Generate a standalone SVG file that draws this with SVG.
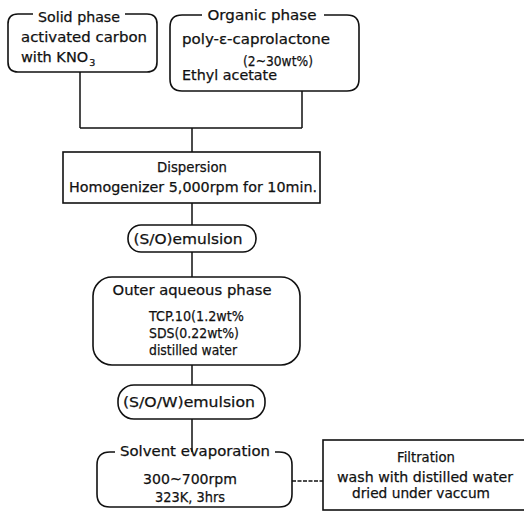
<svg xmlns="http://www.w3.org/2000/svg" width="524" height="512" viewBox="0 0 524 512">
<style>
.b{fill:none;stroke:#111;stroke-width:1.6}
.c{fill:none;stroke:#111;stroke-width:1.5}
text{font-family:"DejaVu Sans","Liberation Sans",sans-serif;font-size:14.5px;fill:#111;stroke:#111;stroke-width:0.25}
.m{text-anchor:middle}
</style>
<rect width="524" height="512" fill="#fff"/>
<g id="connectors">
<path class="c" d="M80,72 V128 M302,91 V128 M80,128 H302 M192,128 V152 M192,203 V225 M192,252 V277 M192,365 V385 M192,419 V452"/>
<path class="c" d="M292,481 H323" stroke-dasharray="4,1.5"/>
</g>
<g id="solid">
<path class="b" d="M125,14 H147 Q157,14 157,24 V62 Q157,72 147,72 H18 Q8,72 8,62 V24 Q8,14 18,14 H33"/>
<text x="79" y="22" class="m" textLength="82" lengthAdjust="spacingAndGlyphs">Solid phase</text>
<text x="21" y="42" textLength="126" lengthAdjust="spacingAndGlyphs">activated carbon</text>
<text x="21" y="62" font-size="14">with KNO<tspan font-size="9.5" dx="1" dy="4">3</tspan></text>
</g>
<g id="organic">
<path class="b" d="M324,15 H347 Q359,15 359,27 V79 Q359,91 347,91 H182 Q170,91 170,79 V27 Q170,15 182,15 H202"/>
<text x="262" y="20" class="m" textLength="109" lengthAdjust="spacingAndGlyphs">Organic phase</text>
<text x="182" y="44" textLength="148" lengthAdjust="spacingAndGlyphs">poly-ε-caprolactone</text>
<text x="243" y="66" textLength="70" lengthAdjust="spacingAndGlyphs">(2~30wt%)</text>
<text x="182" y="80" textLength="95" lengthAdjust="spacingAndGlyphs">Ethyl acetate</text>
</g>
<g id="dispersion">
<rect class="b" x="63" y="152" width="257" height="51"/>
<text x="192" y="172" class="m" textLength="70" lengthAdjust="spacingAndGlyphs">Dispersion</text>
<text x="193" y="192" class="m" textLength="248" lengthAdjust="spacingAndGlyphs">Homogenizer 5,000rpm for 10min.</text>
</g>
<g id="so-emulsion">
<rect class="b" x="128" y="225" width="128" height="27" rx="13"/>
<text x="188" y="244" class="m" textLength="109" lengthAdjust="spacingAndGlyphs">(S/O)emulsion</text>
</g>
<g id="outer">
<rect class="b" x="93" y="277" width="207" height="88" rx="19"/>
<text x="192" y="295" class="m" textLength="159" lengthAdjust="spacingAndGlyphs">Outer aqueous phase</text>
<text x="149" y="321" textLength="95" lengthAdjust="spacingAndGlyphs">TCP.10(1.2wt%</text>
<text x="149" y="338" textLength="90" lengthAdjust="spacingAndGlyphs">SDS(0.22wt%)</text>
<text x="149" y="355" textLength="88" lengthAdjust="spacingAndGlyphs">distilled water</text>
</g>
<g id="sow-emulsion">
<rect class="b" x="118" y="385" width="147" height="34" rx="16"/>
<text x="189" y="407" class="m" textLength="132" lengthAdjust="spacingAndGlyphs">(S/O/W)emulsion</text>
</g>
<g id="solvent">
<path class="b" d="M275,452 H279 Q292,452 292,465 V494 Q292,507 279,507 H110 Q97,507 97,494 V465 Q97,452 110,452 H115"/>
<text x="195" y="456" class="m" textLength="150" lengthAdjust="spacingAndGlyphs">Solvent evaporation</text>
<text x="190" y="484" class="m" textLength="94" lengthAdjust="spacingAndGlyphs">300~700rpm</text>
<text x="190" y="502" class="m" textLength="70" lengthAdjust="spacingAndGlyphs">323K, 3hrs</text>
</g>
<g id="filtration">
<rect class="b" x="323" y="440" width="210" height="70"/>
<text x="426" y="462" class="m" textLength="58" lengthAdjust="spacingAndGlyphs">Filtration</text>
<text x="425" y="482" class="m" textLength="176" lengthAdjust="spacingAndGlyphs">wash with distilled water</text>
<text x="421" y="498" class="m" textLength="138" lengthAdjust="spacingAndGlyphs">dried under vaccum</text>
</g>
</svg>
